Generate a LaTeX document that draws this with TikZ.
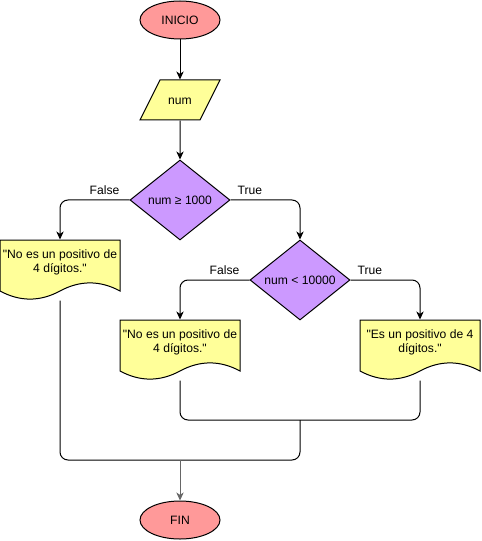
\documentclass[tikz,border=0pt]{standalone}
\usepackage{fontspec}
\setmainfont{Liberation Sans}
\usetikzlibrary{arrows.meta,positioning,shapes.geometric}

\definecolor{termfill}{HTML}{FF9999}
\definecolor{iofill}{HTML}{FFFF99}
\definecolor{condfill}{HTML}{CC99FF}

% document shape: x, y of top left corner, width (px)
\newcommand{\docshape}[3]{%
\filldraw[fill=iofill, line width=0.75pt] (#1,#2) -- ({#1+#3},#2) -- ({#1+#3},{#2+51})
  .. controls ({#1+#3*5/6},{#2+40.2}) and ({#1+#3*2/3},{#2+40.2}) .. ({#1+#3/2},{#2+51})
  .. controls ({#1+#3/3},{#2+61.8}) and ({#1+#3/6},{#2+61.8}) .. (#1,{#2+51}) -- cycle;}

\begin{document}
\begin{tikzpicture}[
x=0.75pt, y=-0.75pt,
font=\fontsize{9.1}{10.5}\selectfont,
line width=0.75pt,
term/.style={ellipse, draw, fill=termfill, minimum width=60pt, minimum height=28.5pt, inner sep=0pt},
io/.style={trapezium, trapezium left angle=63.43, trapezium right angle=116.57,
  draw, fill=iofill, text width=30pt, align=center, text height=6.5pt, text depth=0pt,
  inner xsep=0pt, inner ysep=11.75pt},
cond/.style={diamond, draw, fill=condfill, minimum width=75pt, minimum height=60pt, inner sep=0pt},
docnode/.style={minimum width=90pt, minimum height=45pt, inner sep=0pt},
doctext/.style={align=center, yshift=6pt},
arr/.style={-{Stealth[length=6pt, width=5.5pt, inset=1.8pt]}},
]
\useasboundingbox (0,0) rectangle (481,541);

\docshape{0}{240}{120}
\docshape{120}{320}{120}
\docshape{360}{320}{120}

\node (ini) [term] at (180,20) {INICIO};
\node (num) [io] at (180,100) {num};
\node (cond1) [cond] at (180,200) {num ≥ 1000};
\node (cond2) [cond] at (300,280) {num < 10000};
\node (msg1) [docnode, label={[doctext]center:{\textquotedbl No es un positivo de\\4 dígitos.\textquotedbl}}] at (60,270) {};
\node (msg2) [docnode, label={[doctext]center:{\textquotedbl No es un positivo de\\4 dígitos.\textquotedbl}}] at (180,350) {};
\node (msg3) [docnode, label={[doctext]center:{\textquotedbl Es un positivo de 4\\dígitos.\textquotedbl}}] at (420,350) {};
\node (fin) [term] at (180,520) {FIN};

%
\coordinate (join1) at (300,420);
\coordinate (join2) at (300,460);
\coordinate (m) at (180,460);

\draw[arr] (ini) -- (num);
\draw[arr] (num) -- (cond1);
\draw[arr, rounded corners=6pt] (cond1.west) -| node[above, pos=0.18] {False} (msg1.north);
\draw[arr, rounded corners=6pt] (cond1.east) -| node[above, pos=0.14] {True} (cond2.north);
\draw[arr, rounded corners=6pt] (cond2.west) -| node[above, pos=0.18] {False} (msg2.north);
\draw[arr, rounded corners=6pt] (cond2.east) -| node[above, pos=0.14] {True} (msg3.north);

\draw[rounded corners=6pt] (msg2.south) |- (join1) -| (msg3.south);
\draw[rounded corners=6pt] (msg1.south) |- (join2) -- (join1);
\draw[arr, draw=black!60, fill=black] (m) -- (fin);

\end{tikzpicture}
\end{document}
